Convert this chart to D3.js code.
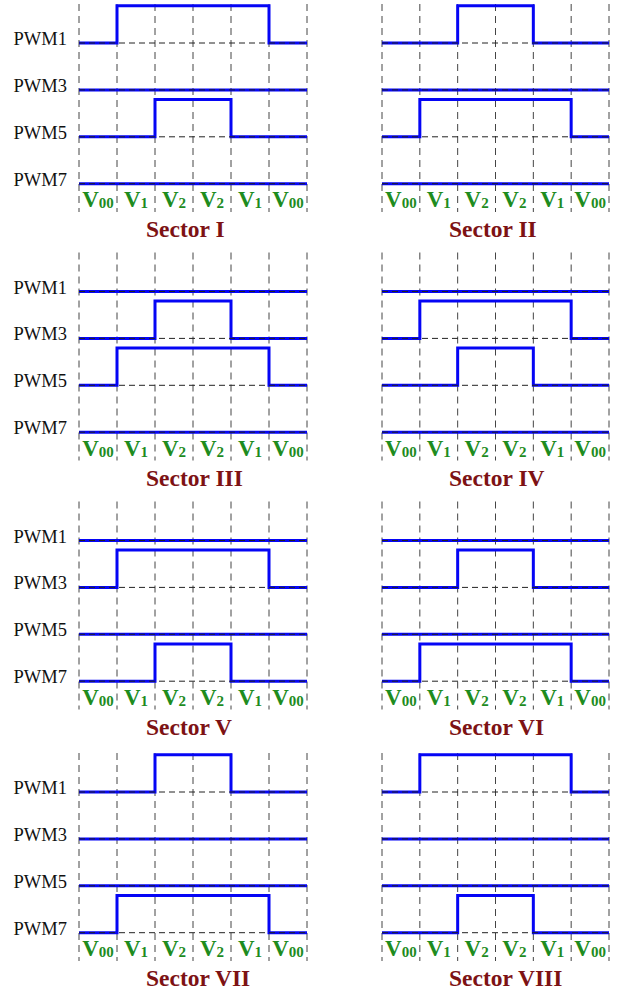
<!DOCTYPE html>
<html>
<head>
<meta charset="utf-8">
<script src="https://cdn.jsdelivr.net/npm/d3@7"></script>
<style>
  body { margin: 0; background: #fff; }
  svg { display: block; }
  .chan-label { font-family: 'Liberation Serif', 'Times New Roman', serif; font-size: 18.5px; fill: #111; }
  .col-label { font-family: 'Liberation Serif', 'Times New Roman', serif; font-weight: bold; fill: #1e8c1e; }
  .sector-title { font-family: 'Liberation Serif', 'Times New Roman', serif; font-weight: bold; font-size: 23.5px; fill: #7d1214; }
</style>
</head>
<body>
<div id="chart"></div>
<script>
const width = 622
const height = 998

// DATA
const channels = ['PWM1', 'PWM3', 'PWM5', 'PWM7']
const columns = [
  { v: 'V', sub: '00' }, { v: 'V', sub: '1' }, { v: 'V', sub: '2' },
  { v: 'V', sub: '2' }, { v: 'V', sub: '1' }, { v: 'V', sub: '00' }
]
const sectors = ['Sector I', 'Sector II', 'Sector III', 'Sector IV',
  'Sector V', 'Sector VI', 'Sector VII', 'Sector VIII']

// switching state per sector: [PWM1, PWM3, PWM5, PWM7], one value per column
const states = [
  [[0,1,1,1,1,0], [0,0,0,0,0,0], [0,0,1,1,0,0], [0,0,0,0,0,0]],
  [[0,0,1,1,0,0], [0,0,0,0,0,0], [0,1,1,1,1,0], [0,0,0,0,0,0]],
  [[0,0,0,0,0,0], [0,0,1,1,0,0], [0,1,1,1,1,0], [0,0,0,0,0,0]],
  [[0,0,0,0,0,0], [0,1,1,1,1,0], [0,0,1,1,0,0], [0,0,0,0,0,0]],
  [[0,0,0,0,0,0], [0,1,1,1,1,0], [0,0,0,0,0,0], [0,0,1,1,0,0]],
  [[0,0,0,0,0,0], [0,0,1,1,0,0], [0,0,0,0,0,0], [0,1,1,1,1,0]],
  [[0,0,1,1,0,0], [0,0,0,0,0,0], [0,0,0,0,0,0], [0,1,1,1,1,0]],
  [[0,1,1,1,1,0], [0,0,0,0,0,0], [0,0,0,0,0,0], [0,0,1,1,0,0]]
]

// LAYOUT
const rowBase = [43, 291.5, 540.5, 792]   // y of PWM1 low level per row
const colRange = [[79, 307], [382, 609]]
const chanGap = 46.9
const pulseH = 37.3

const svg = d3.select('#chart')
  .append('svg')
    .attr('width', width)
    .attr('height', height)
    .attr('viewBox', `0 0 ${width} ${height}`)

sectors.forEach((name, s) => {
  const row = Math.floor(s / 2)
  const col = s % 2
  const base = rowBase[row]

  const x = d3.scaleLinear()
    .domain([0, columns.length])
    .range(colRange[col])

  const g = svg.append('g').attr('class', `panel panel-${s}`)

  // VERTICAL GRID
  g.append('g')
    .selectAll('line')
    .data(d3.range(columns.length + 1))
    .enter().append('line')
      .attr('x1', d => x(d))
      .attr('x2', d => x(d))
      .attr('y1', base - 39)
      .attr('y2', base + 169)
      .attr('stroke', '#444')
      .attr('stroke-width', 1)
      .attr('stroke-dasharray', '7,5')

  // SIGNALS
  channels.forEach((ch, c) => {
    const y0 = base + c * chanGap
    const y = d3.scaleLinear().domain([0, 1]).range([y0, y0 - pulseH])
    const vals = states[s][c]
    const pts = vals.map((v, i) => [i, v]).concat([[vals.length, vals[vals.length - 1]]])

    g.append('path')
      .datum(pts)
      .attr('fill', 'none')
      .attr('stroke', '#0505f5')
      .attr('stroke-width', 3)
      .attr('d', d3.line()
        .curve(d3.curveStepAfter)
        .x(d => x(d[0]))
        .y(d => y(d[1])))

    g.append('line')
      .attr('x1', x(0))
      .attr('x2', x(columns.length))
      .attr('y1', y0)
      .attr('y2', y0)
      .attr('stroke', '#222')
      .attr('stroke-width', 1)
      .attr('stroke-dasharray', '6,4')

    if (col === 0) {
      g.append('text')
        .attr('class', 'chan-label')
        .attr('x', 67)
        .attr('y', y0 + 2)
        .attr('text-anchor', 'end')
        .text(ch)
    }
  })

  // COLUMN LABELS
  const labels = g.append('g')
    .selectAll('text')
    .data(columns)
    .enter().append('text')
      .attr('class', 'col-label')
      .attr('x', (d, i) => x(i + 0.5))
      .attr('y', base + 164)
      .attr('text-anchor', 'middle')
  labels.append('tspan').attr('font-size', 23).text(d => d.v)
  labels.append('tspan').attr('font-size', 15).attr('dy', 1).text(d => d.sub)

  // TITLE
  g.append('text')
    .attr('class', 'sector-title')
    .attr('x', x(0) + 67)
    .attr('y', base + 194)
    .text(name)
})
</script>
</body>
</html>
